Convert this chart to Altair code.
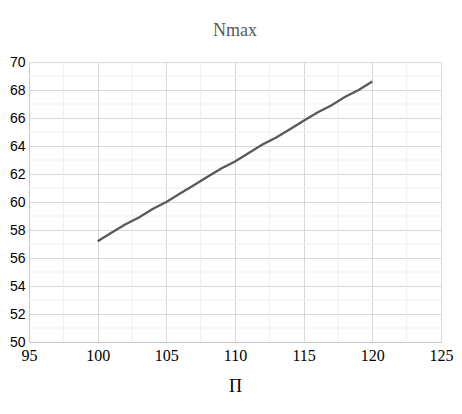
import altair as alt
import pandas as pd

x_vals = [100, 101, 102, 103, 104, 105, 106, 107, 108, 109, 110,
          111, 112, 113, 114, 115, 116, 117, 118, 119, 120]
y_vals = [57.2, 57.8, 58.4, 58.9, 59.5, 60.0, 60.6, 61.2, 61.8, 62.4, 62.9,
          63.5, 64.1, 64.6, 65.2, 65.8, 66.4, 66.9, 67.5, 68.0, 68.6]
x_major = [95, 100, 105, 110, 115, 120, 125]
y_major = [50, 52, 54, 56, 58, 60, 62, 64, 66, 68, 70]
x_minor = [97.5, 102.5, 107.5, 112.5, 117.5, 122.5]
y_minor = [51, 53, 55, 57, 59, 61, 63, 65, 67, 69]

df = pd.DataFrame({"x": x_vals, "y": y_vals})
xs = alt.Scale(domain=[95, 125], nice=False, zero=False)
ys = alt.Scale(domain=[50, 70], nice=False, zero=False)

x_axis = alt.Axis(values=x_major, grid=True, gridColor="#d9d9d9", ticks=False,
                  domainColor="#c8c8c8", labelFont="Liberation Serif", labelFontSize=16,
                  labelColor="#000000", labelPadding=5, labelFlush=False, labelOverlap=False,
                  titleFont="Liberation Serif", titleFontSize=18, titleFontWeight="normal",
                  titleColor="#000000", titlePadding=14)
y_axis = alt.Axis(values=y_major, grid=True, gridColor="#d9d9d9", ticks=False,
                  domainColor="#c8c8c8", labelFont="Liberation Sans", labelFontSize=14,
                  labelColor="#000000", labelPadding=4, labelFlush=False, labelOverlap=False)

minor_v = alt.Chart(pd.DataFrame({"x": x_minor})).mark_rule(color="#efefef", strokeWidth=1).encode(
    x=alt.X("x:Q", scale=xs, axis=x_axis, title="П"))
minor_h = alt.Chart(pd.DataFrame({"y": y_minor})).mark_rule(color="#efefef", strokeWidth=1).encode(
    y=alt.Y("y:Q", scale=ys, axis=y_axis, title=None))

line = alt.Chart(df).mark_line(color="#595959", strokeWidth=2.3).encode(
    x=alt.X("x:Q", scale=xs, title="П", axis=x_axis),
    y=alt.Y("y:Q", scale=ys, title=None, axis=y_axis),
)

chart = alt.layer(minor_v, minor_h, line).properties(
    width=412, height=280,
    autosize=alt.AutoSizeParams(type="none"),
    padding={"left": 21, "top": 54, "right": 13, "bottom": 60},
    title=alt.TitleParams("Nmax", font="Liberation Serif", fontSize=18, fontWeight="normal",
                          color="#595959", anchor="middle", offset=15),
).configure_view(stroke=None)

chart.save("out.html", embed_options={"renderer": "svg", "actions": False})
